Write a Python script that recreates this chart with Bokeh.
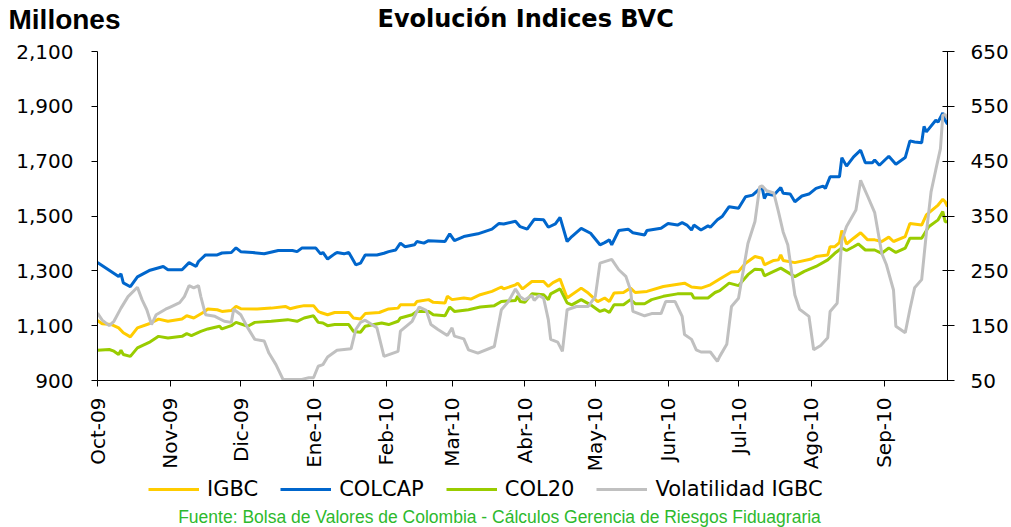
import math
from datetime import datetime, timedelta

from bokeh.plotting import figure
from bokeh.layouts import column
from bokeh.models import (Range1d, LinearAxis, FixedTicker, NumeralTickFormatter,
                          Legend, LegendItem, Title, Label)
from bokeh.embed import file_html
from bokeh.resources import INLINE

# ---------------- data ----------------
START = datetime(2009, 10, 1)
END_DAY = 362

month_labels = ["Oct-09", "Nov-09", "Dic-09", "Ene-10", "Feb-10", "Mar-10",
                "Abr-10", "May-10", "Jun-10", "Jul-10", "Ago-10", "Sep-10"]
month_starts = [datetime(2009, 10, 1), datetime(2009, 11, 1), datetime(2009, 12, 1),
                datetime(2010, 1, 1), datetime(2010, 2, 1), datetime(2010, 3, 1),
                datetime(2010, 4, 1), datetime(2010, 5, 1), datetime(2010, 6, 1),
                datetime(2010, 7, 1), datetime(2010, 8, 1), datetime(2010, 9, 1)]

left_ticks = [900, 1100, 1300, 1500, 1700, 1900, 2100]
right_ticks = [50, 150, 250, 350, 450, 550, 650]

# days since 2009-10-01
colcap_days = [0, 9, 10, 11, 14, 17, 22, 28, 30, 36, 39, 42, 43, 46, 51, 53, 57, 59, 61, 66,
               71, 77, 83, 85, 87, 93, 95, 96, 98, 101, 102, 105, 107, 108, 110, 112, 114, 119,
               122, 124, 127, 129, 131, 135, 136, 139, 141, 148, 150, 152, 156, 162, 168, 171,
               173, 178, 180, 183, 186, 190, 192, 195, 197, 200, 202, 206, 210, 214, 216, 218,
               219, 222, 226, 228, 233, 234, 240, 243, 247, 249, 251, 253, 254, 257, 260, 261,
               264, 266, 269, 273, 276, 279, 283, 284, 285, 288, 291, 292, 295, 297, 300, 303,
               306, 309, 310, 312, 316, 317, 319, 322, 325, 327, 330, 331, 333, 337, 340, 344,
               346, 348, 351, 352, 353, 357, 358, 360, 361, 362]
colcap = [1330, 1279, 1289, 1256, 1242, 1278, 1301, 1316, 1304, 1304, 1330, 1316, 1334, 1358,
          1358, 1365, 1367, 1384, 1370, 1367, 1362, 1374, 1374, 1370, 1383, 1383, 1362, 1367,
          1343, 1362, 1367, 1362, 1367, 1352, 1322, 1328, 1358, 1358, 1364, 1370, 1376, 1401,
          1388, 1395, 1407, 1401, 1410, 1407, 1435, 1410, 1425, 1435, 1452, 1473, 1471, 1481,
          1461, 1452, 1488, 1486, 1459, 1471, 1495, 1407, 1425, 1455, 1437, 1395, 1403, 1413,
          1395, 1447, 1452, 1439, 1431, 1447, 1455, 1473, 1467, 1476, 1467, 1449, 1467, 1449,
          1464, 1459, 1486, 1498, 1534, 1528, 1570, 1576, 1607, 1564, 1580, 1576, 1604, 1583,
          1580, 1552, 1573, 1580, 1601, 1609, 1601, 1643, 1643, 1713, 1682, 1716, 1740, 1694,
          1694, 1704, 1685, 1718, 1689, 1713, 1774, 1770, 1767, 1827, 1807, 1849, 1843, 1876,
          1849, 1835]

igbc_days = [0, 2, 6, 9, 11, 14, 17, 22, 26, 30, 36, 38, 41, 45, 47, 51, 53, 57, 59, 61, 68,
             74, 80, 82, 85, 88, 92, 94, 95, 98, 101, 107, 109, 112, 114, 120, 124, 128, 129,
             135, 136, 141, 143, 148, 149, 151, 156, 159, 163, 168, 172, 173, 178, 179, 181,
             185, 190, 192, 194, 197, 200, 206, 209, 213, 216, 218, 220, 224, 227, 229, 234,
             241, 250, 253, 257, 261, 265, 270, 273, 276, 280, 283, 284, 288, 290, 291, 292,
             297, 304, 306, 311, 312, 314, 316, 317, 319, 322, 325, 328, 331, 334, 337, 339,
             344, 346, 351, 353, 358, 360, 361, 362]
igbc = [1119, 1107, 1104, 1092, 1074, 1059, 1092, 1107, 1124, 1116, 1124, 1136, 1128, 1148,
        1161, 1158, 1152, 1155, 1170, 1162, 1161, 1164, 1170, 1162, 1168, 1173, 1173, 1152,
        1148, 1140, 1148, 1148, 1128, 1124, 1144, 1148, 1161, 1164, 1176, 1176, 1188, 1195,
        1185, 1183, 1207, 1195, 1201, 1197, 1213, 1225, 1241, 1234, 1249, 1255, 1234, 1261,
        1261, 1243, 1257, 1270, 1201, 1237, 1219, 1188, 1201, 1188, 1219, 1221, 1237, 1221,
        1225, 1243, 1255, 1241, 1237, 1249, 1270, 1296, 1298, 1328, 1352, 1346, 1322, 1338,
        1340, 1358, 1338, 1330, 1343, 1352, 1358, 1388, 1388, 1403, 1447, 1398, 1419, 1439,
        1413, 1413, 1407, 1423, 1407, 1425, 1473, 1467, 1504, 1540, 1561, 1552, 1534]

col20_days = [0, 5, 7, 9, 10, 11, 14, 17, 22, 26, 30, 36, 38, 40, 44, 47, 52, 53, 57, 59, 64,
              67, 74, 81, 85, 88, 92, 94, 96, 98, 101, 107, 109, 112, 114, 121, 124, 128, 129,
              134, 136, 141, 143, 148, 150, 152, 158, 163, 169, 172, 178, 179, 180, 182, 185,
              190, 192, 193, 197, 200, 202, 206, 210, 214, 216, 218, 220, 224, 227, 229, 233,
              236, 241, 247, 253, 254, 260, 263, 265, 269, 273, 277, 280, 283, 284, 288, 291,
              297, 301, 306, 311, 314, 317, 319, 322, 324, 327, 331, 334, 337, 340, 344, 346,
              351, 354, 358, 360, 361, 362]
col20 = [1010, 1013, 1007, 995, 1010, 995, 988, 1019, 1039, 1061, 1055, 1061, 1071, 1064,
         1079, 1088, 1098, 1088, 1100, 1112, 1098, 1112, 1116, 1122, 1116, 1128, 1136, 1112,
         1110, 1100, 1104, 1104, 1079, 1076, 1098, 1110, 1104, 1116, 1128, 1140, 1152, 1152,
         1140, 1136, 1168, 1152, 1158, 1168, 1173, 1188, 1192, 1208, 1188, 1185, 1216, 1213,
         1195, 1216, 1234, 1183, 1176, 1195, 1176, 1152, 1158, 1148, 1176, 1176, 1195, 1180,
         1180, 1195, 1207, 1216, 1216, 1201, 1201, 1221, 1228, 1255, 1246, 1286, 1306, 1304,
         1282, 1298, 1310, 1279, 1298, 1316, 1340, 1364, 1383, 1374, 1388, 1398, 1376, 1376,
         1364, 1383, 1367, 1383, 1419, 1419, 1461, 1486, 1516, 1479, 1479]

vol_days = [0, 2, 5, 7, 10, 13, 17, 19, 21, 23, 25, 29, 31, 35, 37, 39, 41, 43, 44, 46, 50,
            54, 57, 58, 61, 64, 67, 71, 73, 76, 79, 87, 90, 92, 94, 96, 98, 102, 108, 110, 112,
            114, 119, 122, 128, 129, 134, 137, 140, 142, 145, 149, 151, 152, 156, 158, 162,
            169, 172, 175, 178, 180, 182, 185, 186, 188, 190, 192, 193, 196, 198, 200, 204,
            209, 212, 214, 219, 222, 225, 227, 228, 233, 236, 240, 242, 246, 249, 250, 253,
            255, 257, 261, 264, 265, 268, 270, 273, 277, 280, 282, 283, 285, 288, 290, 292,
            294, 297, 299, 303, 305, 308, 311, 312, 315, 317, 319, 323, 325, 328, 331, 334,
            336, 339, 340, 344, 346, 348, 351, 353, 355, 357, 359, 360, 361, 362]
volatilidad = [173, 160, 150, 158, 182, 203, 220, 197, 179, 152, 170, 180, 184, 192, 203, 223,
               219, 223, 203, 170, 167, 158, 156, 180, 170, 146, 125, 122, 100, 79, 52, 52, 55,
               55, 76, 79, 93, 105, 108, 143, 156, 160, 146, 94, 103, 140, 158, 184, 178, 152,
               143, 132, 146, 131, 126, 106, 100, 112, 179, 194, 217, 203, 197, 205, 196, 205,
               200, 161, 125, 120, 103, 179, 185, 185, 203, 264, 271, 252, 240, 215, 176, 168,
               172, 172, 194, 194, 167, 134, 125, 106, 102, 102, 85, 94, 116, 185, 200, 300,
               340, 403, 405, 396, 392, 358, 321, 297, 206, 180, 167, 106, 114, 128, 176, 191,
               306, 331, 361, 415, 386, 356, 282, 261, 215, 149, 137, 180, 219, 234, 319, 394,
               434, 473, 534, 535, 528]

series_names = ["IGBC", "COLCAP", "COL20", "Volatilidad IGBC"]
series_colors = ["#FFCC00", "#0066CC", "#99CC00", "#C0C0C0"]

title_text = "Evolución Indices BVC"
units_text = "Millones"
source_text = "Fuente: Bolsa de Valores de Colombia - Cálculos Gerencia de Riesgos Fiduagraria"


# ---------------- helpers ----------------
def to_dates(days):
    return [START + timedelta(days=d) for d in days]


def to_ms(d):
    return int((d - datetime(1970, 1, 1)).total_seconds() * 1000)


FONT = "DejaVu Sans"
W = 1011
BORDER_L, BORDER_R = 97, 64
MAIN_H = 474
FOOT_H = 527 - MAIN_H

# ---------------- main chart ----------------
p = figure(width=W, height=MAIN_H, x_axis_type="datetime",
           x_range=Range1d(START, START + timedelta(days=END_DAY)),
           y_range=Range1d(900, 2100),
           output_backend="svg", toolbar_location=None,
           min_border_left=BORDER_L, min_border_right=BORDER_R,
           min_border_top=51, min_border_bottom=MAIN_H - 51 - 330)
p.title.visible = False
p.outline_line_color = None
p.grid.visible = False
p.background_fill_color = "white"
p.border_fill_color = "white"
p.extra_y_ranges = {"vol": Range1d(50, 650)}

right_axis = LinearAxis(y_range_name="vol")
p.add_layout(right_axis, "right")

la = p.left[0]
la.ticker = FixedTicker(ticks=left_ticks)
la.formatter = NumeralTickFormatter(format="0,0")
la.major_tick_in = 0
la.major_tick_out = 6
la.minor_tick_line_color = None
la.major_label_standoff = 18
la.major_label_text_font = FONT
la.major_label_text_font_size = "20px"
la.major_label_text_color = "black"
la.axis_line_color = "black"
la.major_tick_line_color = "black"

right_axis.ticker = FixedTicker(ticks=right_ticks)
right_axis.major_tick_in = 5
right_axis.major_tick_out = 7
right_axis.minor_tick_line_color = None
right_axis.major_label_standoff = 16
right_axis.major_label_text_font = FONT
right_axis.major_label_text_font_size = "20px"
right_axis.major_label_text_color = "black"
right_axis.axis_line_color = "black"
right_axis.major_tick_line_color = "black"

xa = p.below[0]
tick_ms = [to_ms(d) for d in month_starts]
xa.ticker = FixedTicker(ticks=tick_ms)
xa.major_label_overrides = {ms: lab for ms, lab in zip(tick_ms, month_labels)}
xa.major_label_orientation = math.pi / 2
xa.major_tick_in = 0
xa.major_tick_out = 6
xa.minor_tick_line_color = None
xa.major_label_standoff = 11
xa.major_label_text_font = FONT
xa.major_label_text_font_size = "20px"
xa.major_label_text_color = "black"
xa.axis_line_color = "black"
xa.major_tick_line_color = "black"

r_igbc = p.line(to_dates(igbc_days), igbc, line_color=series_colors[0], line_width=3)
r_colcap = p.line(to_dates(colcap_days), colcap, line_color=series_colors[1], line_width=3)
r_col20 = p.line(to_dates(col20_days), col20, line_color=series_colors[2], line_width=3)
r_vol = p.line(to_dates(vol_days), volatilidad, line_color=series_colors[3], line_width=3,
               y_range_name="vol")

# titles in the top panel; both take no layout room and hang from the frame top
t_main = Title(text=title_text, align="left", offset=280, vertical_align="top",
               standoff=-94, text_font=FONT, text_font_style="bold",
               text_font_size="24px", text_color="black")
t_units = Title(text=units_text, align="left", offset=-89, vertical_align="top",
                standoff=-96, text_font="Liberation Sans", text_font_style="bold",
                text_font_size="28px", text_color="black")
p.add_layout(t_main, "above")
p.add_layout(t_units, "above")

# ---------------- footer: legend + source ----------------
foot = figure(width=W, height=FOOT_H, output_backend="svg", toolbar_location=None,
              x_range=Range1d(0, 1), y_range=Range1d(0, 1),
              x_axis_location=None, y_axis_location=None,
              min_border_left=BORDER_L, min_border_right=BORDER_R,
              min_border_top=0, min_border_bottom=0)
foot.title.visible = False
foot.outline_line_color = None
foot.grid.visible = False
foot.background_fill_color = "white"
foot.border_fill_color = "white"

# legend keys: styled like the series, with no visible points of their own
nan = float("nan")
key_renderers = [foot.line([nan, nan], [nan, nan], line_color=c, line_width=3)
                 for c in series_colors]
legend = Legend(items=[LegendItem(label=n, renderers=[r])
                       for n, r in zip(series_names, key_renderers)],
                orientation="horizontal", location=(51, FOOT_H - 27),
                glyph_width=51, glyph_height=16, label_height=16, label_standoff=8,
                spacing=22, padding=0, margin=0, border_line_alpha=0,
                background_fill_alpha=0, label_text_font=FONT,
                label_text_font_size="21px", label_text_color="black")
foot.add_layout(legend)

foot.add_layout(Label(x=499 - BORDER_L, y=11, x_units="screen", y_units="screen",
                      text=source_text, text_align="center", text_baseline="alphabetic",
                      text_font="Liberation Sans", text_font_size="17.5px",
                      text_color="#2DB92D"))

layout = column(p, foot, spacing=0)
open("out.html", "w").write(file_html(layout, INLINE))
